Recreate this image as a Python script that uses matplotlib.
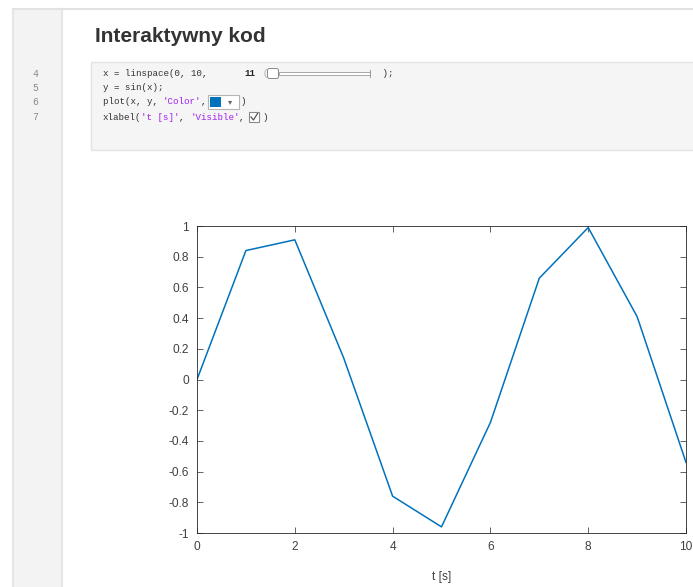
import matplotlib
matplotlib.use("Agg")
import matplotlib.pyplot as plt
from matplotlib.patches import Rectangle, FancyBboxPatch

# data: x = linspace(0, 10, 11), y = sin(x)
t_vals = [0, 1, 2, 3, 4, 5, 6, 7, 8, 9, 10]
y_vals = [0.0, 0.84, 0.91, 0.14, -0.76, -0.96, -0.28, 0.66, 0.99, 0.41, -0.54]
x_ticks = [0, 2, 4, 6, 8, 10]
y_ticks = [1, 0.8, 0.6, 0.4, 0.2, 0, -0.2, -0.4, -0.6, -0.8, -1]
y_tick_labels = ["1", "0.8", "0.6", "0.4", "0.2", "0", "-0.2", "-0.4", "-0.6", "-0.8", "-1"]
line_numbers = ["4", "5", "6", "7"]

W, H = 693, 587
fig = plt.figure(figsize=(W / 100, H / 100), dpi=100)
fig.patch.set_facecolor("white")

#-------------------------- background (live editor look) ----------------------
bg = fig.add_axes([0, 0, 1, 1])
bg.set_xlim(0, W)
bg.set_ylim(H, 0)
bg.axis("off")

# gutter with line numbers
bg.add_patch(Rectangle((13, 9), 50, H, fc="#f3f3f3", ec="none"))
bg.plot([13, 13], [9, H], color="#e2e2e2", lw=1.2)
bg.plot([62, 62], [9, H], color="#e6e6e6", lw=1.5)
bg.plot([13, W], [9, 9], color="#e2e2e2", lw=1.5)

bg.text(95, 36, "Interaktywny kod", fontsize=15, fontweight="bold",
        family="Liberation Sans", color="#333333", va="center", ha="left")

# code box
bg.add_patch(Rectangle((91, 62), W - 91 + 2, 88, fc="#f5f5f5", ec="#e4e4e4", lw=1))

mono = "Liberation Mono"
code_fs = 6.6
cw = 5.45  # width of one code character, px
code_col = "#333333"
str_col = "#a020f0"
row_y = [74, 88, 102, 117]
x0 = 103
for i in range(len(line_numbers)):
  bg.text(35, row_y[i], line_numbers[i], fontsize=7, family=mono, color="#8a8a8a",
          va="center", ha="center")

# line 4 + slider
bg.text(x0, row_y[0], "x = linspace(0, 10,", fontsize=code_fs, family=mono,
        color=code_col, va="center")
bg.text(244, row_y[0], "11", fontsize=code_fs, family=mono, color="#222222",
        va="center", fontweight="bold")
bg.text(262, row_y[0], "(", fontsize=code_fs, family=mono, color="#aaaaaa", va="center")
bg.add_patch(Rectangle((279, 72), 91, 3, fc="white", ec="#9a9a9a", lw=0.6))
bg.plot([370, 370], [70, 77], color="#9a9a9a", lw=0.7)
bg.add_patch(FancyBboxPatch((268, 69), 10, 9, boxstyle="round,pad=0.5,rounding_size=2",
                            fc="white", ec="#8a8a8a", lw=0.7))
bg.text(377, row_y[0], " );", fontsize=code_fs, family=mono, color=code_col, va="center")

# line 5
bg.text(x0, row_y[1], "y = sin(x);", fontsize=code_fs, family=mono, color=code_col, va="center")

# line 6 + colour picker
bg.text(x0, row_y[2], "plot(x, y, ", fontsize=code_fs, family=mono, color=code_col, va="center")
bg.text(x0 + 11 * cw, row_y[2], "'Color'", fontsize=code_fs, family=mono, color=str_col, va="center")
bg.text(x0 + 18 * cw, row_y[2], ",", fontsize=code_fs, family=mono, color=code_col, va="center")
bg.add_patch(Rectangle((208, 95), 31, 14, fc="white", ec="#b5b5b5", lw=0.8))
bg.add_patch(Rectangle((210, 97), 11, 10, fc="#0072bd", ec="none"))
bg.text(230, 102, "▾", fontsize=6, color="#666666", va="center", ha="center",
        family="DejaVu Sans")
bg.text(241, row_y[2], ")", fontsize=code_fs, family=mono, color=code_col, va="center")

# line 7 + checkbox
bg.text(x0, row_y[3], "xlabel(", fontsize=code_fs, family=mono, color=code_col, va="center")
bg.text(x0 + 7 * cw, row_y[3], "'t [s]'", fontsize=code_fs, family=mono, color=str_col, va="center")
bg.text(x0 + 14 * cw, row_y[3], ", ", fontsize=code_fs, family=mono, color=code_col, va="center")
bg.text(x0 + 16 * cw, row_y[3], "'Visible'", fontsize=code_fs, family=mono, color=str_col, va="center")
bg.text(x0 + 25 * cw, row_y[3], ",", fontsize=code_fs, family=mono, color=code_col, va="center")
bg.add_patch(Rectangle((249, 112), 10, 10, fc="white", ec="#8a8a8a", lw=0.8))
bg.plot([251, 253.5, 257.5], [117, 120, 113.5], color="#555555", lw=0.9)
bg.text(262, row_y[3], ")", fontsize=code_fs, family=mono, color=code_col, va="center")

#------------------------------------ plot -------------------------------------
ax = fig.add_axes([197 / W, (H - 533) / H, (686 - 197) / W, (533 - 226) / H])
ax.plot(t_vals, y_vals, color="#0072bd", lw=1.1)
ax.set_xlim(0, 10)
ax.set_ylim(-1, 1)
ax.set_xticks(x_ticks)
ax.set_yticks(y_ticks)
ax.set_yticklabels(y_tick_labels)
for s in ax.spines.values():
  s.set_color("#262626")
  s.set_linewidth(0.6)
ax.tick_params(direction="in", length=4.5, width=0.5, colors="#262626",
               top=True, right=True, labelsize=8.6, pad=6)
for lab in ax.get_xticklabels() + ax.get_yticklabels():
  lab.set_family("Liberation Sans")
  lab.set_color("#404040")
ax.set_xlabel("t [s]", fontsize=8.6, family="Liberation Sans", color="#404040", labelpad=13)
ax.set_facecolor("white")

fig.savefig("out.png", dpi=100)
